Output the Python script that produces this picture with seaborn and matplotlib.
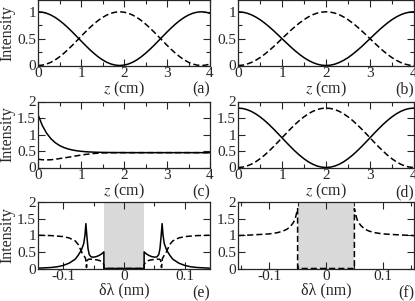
import numpy as np
import pandas as pd
import matplotlib
matplotlib.use("Agg")
import matplotlib.pyplot as plt
from matplotlib.ticker import MultipleLocator
import seaborn as sns

sns.set_style("ticks")
plt.rcParams['font.family'] = ['Liberation Serif', 'DejaVu Serif']
plt.rcParams['mathtext.fontset'] = 'stix'
plt.rcParams['font.size'] = 8

# ---- data ----
z = [round(0.1 * i, 1) for i in range(41)]

a_solid = [1.000, 0.993, 0.973, 0.940, 0.895, 0.839, 0.774, 0.701, 0.623, 0.541,
           0.459, 0.377, 0.299, 0.227, 0.161, 0.105, 0.060, 0.027, 0.007, 0.000,
           0.007, 0.027, 0.060, 0.105, 0.161, 0.227, 0.299, 0.377, 0.459, 0.541,
           0.623, 0.701, 0.774, 0.839, 0.895, 0.940, 0.973, 0.993, 1.000, 0.993, 0.973]
a_dash = [0.000, 0.007, 0.027, 0.060, 0.105, 0.161, 0.226, 0.299, 0.377, 0.459,
          0.541, 0.623, 0.701, 0.773, 0.839, 0.895, 0.940, 0.973, 0.993, 1.000,
          0.993, 0.973, 0.940, 0.895, 0.839, 0.773, 0.701, 0.623, 0.541, 0.459,
          0.377, 0.299, 0.226, 0.161, 0.105, 0.060, 0.027, 0.007, 0.000, 0.007, 0.027]

b_solid = [1.000, 0.994, 0.976, 0.946, 0.905, 0.854, 0.794, 0.727, 0.655, 0.578,
           0.500, 0.422, 0.345, 0.273, 0.206, 0.146, 0.096, 0.055, 0.025, 0.006,
           0.000, 0.006, 0.025, 0.055, 0.096, 0.146, 0.206, 0.273, 0.345, 0.422,
           0.500, 0.578, 0.655, 0.727, 0.794, 0.854, 0.905, 0.946, 0.976, 0.994, 1.000]
b_dash = [0.000, 0.006, 0.025, 0.055, 0.096, 0.146, 0.206, 0.273, 0.345, 0.422,
          0.500, 0.578, 0.655, 0.727, 0.794, 0.854, 0.905, 0.946, 0.976, 0.994,
          1.000, 0.994, 0.976, 0.946, 0.905, 0.854, 0.794, 0.727, 0.655, 0.578,
          0.500, 0.422, 0.345, 0.273, 0.206, 0.146, 0.096, 0.055, 0.025, 0.006, 0.000]

c_solid = [1.600, 1.274, 1.040, 0.873, 0.753, 0.667, 0.606, 0.562, 0.530, 0.507,
           0.491, 0.479, 0.471, 0.465, 0.461, 0.458, 0.456, 0.454, 0.453, 0.452,
           0.451, 0.450, 0.450, 0.450, 0.450, 0.450, 0.450, 0.450, 0.450, 0.450,
           0.450, 0.450, 0.450, 0.450, 0.450, 0.450, 0.450, 0.450, 0.450, 0.450, 0.450]
c_dash = [0.250, 0.235, 0.230, 0.235, 0.250, 0.270, 0.290, 0.310, 0.330, 0.355,
          0.375, 0.395, 0.410, 0.425, 0.435, 0.440, 0.445, 0.447, 0.448, 0.449,
          0.450, 0.450, 0.450, 0.450, 0.450, 0.450, 0.450, 0.450, 0.450, 0.450,
          0.450, 0.450, 0.450, 0.450, 0.450, 0.450, 0.450, 0.450, 0.450, 0.450, 0.450]

d_solid = [1.800, 1.789, 1.756, 1.702, 1.628, 1.536, 1.429, 1.309, 1.178, 1.041,
           0.900, 0.759, 0.622, 0.491, 0.371, 0.264, 0.172, 0.098, 0.044, 0.011,
           0.000, 0.011, 0.044, 0.098, 0.172, 0.264, 0.371, 0.491, 0.622, 0.759,
           0.900, 1.041, 1.178, 1.309, 1.429, 1.536, 1.628, 1.702, 1.756, 1.789, 1.800]
d_dash = [0.000, 0.011, 0.044, 0.098, 0.172, 0.264, 0.371, 0.491, 0.622, 0.759,
          0.900, 1.041, 1.178, 1.309, 1.429, 1.536, 1.628, 1.702, 1.756, 1.789,
          1.800, 1.789, 1.756, 1.702, 1.628, 1.536, 1.429, 1.309, 1.178, 1.041,
          0.900, 0.759, 0.622, 0.491, 0.371, 0.264, 0.172, 0.098, 0.044, 0.011, 0.000]

# panel (e): detuning (nm)
e_x_solid = [-0.140, -0.120, -0.110, -0.100, -0.090, -0.080, -0.075, -0.070, -0.066,
             -0.064, -0.0625, -0.061, -0.059, -0.057, -0.054, -0.050, -0.045, -0.040,
             -0.036, -0.033, -0.033, 0.033, 0.033, 0.036, 0.040, 0.045, 0.050, 0.054,
             0.057, 0.059, 0.061, 0.0625, 0.064, 0.066, 0.070, 0.075, 0.080, 0.090,
             0.100, 0.110, 0.120, 0.140]
e_solid = [0.01, 0.03, 0.05, 0.09, 0.16, 0.28, 0.40, 0.55, 0.75,
           1.00, 1.35, 1.00, 0.60, 0.42, 0.35, 0.34, 0.36, 0.40,
           0.45, 0.50, 0.00, 0.00, 0.50, 0.45, 0.40, 0.36, 0.34, 0.35,
           0.42, 0.60, 1.00, 1.35, 1.00, 0.75, 0.55, 0.40, 0.28, 0.16,
           0.09, 0.05, 0.03, 0.01]
e_x_dash = [-0.140, -0.120, -0.100, -0.090, -0.080, -0.075, -0.072, -0.069, -0.066,
            -0.063, -0.0615, -0.060, -0.058, -0.054, -0.050, -0.045, -0.040, -0.036,
            -0.033, -0.033, 0.033, 0.033, 0.036, 0.040, 0.045, 0.050, 0.054, 0.058,
            0.060, 0.0615, 0.063, 0.066, 0.069, 0.072, 0.075, 0.080, 0.090, 0.100,
            0.120, 0.140]
e_dash = [1.00, 0.99, 0.96, 0.92, 0.83, 0.72, 0.60, 0.48, 0.40,
          0.30, 0.03, 0.25, 0.28, 0.28, 0.27, 0.26, 0.24, 0.20,
          0.12, 0.00, 0.00, 0.12, 0.20, 0.24, 0.26, 0.27, 0.28, 0.28,
          0.25, 0.03, 0.30, 0.40, 0.48, 0.60, 0.72, 0.83, 0.92, 0.96,
          0.99, 1.00]

# panel (f)
f_x_dash = [-0.155, -0.130, -0.100, -0.085, -0.075, -0.068, -0.062, -0.058, -0.055,
            -0.053, -0.051, -0.050, -0.050, 0.050, 0.050, 0.051, 0.053, 0.055, 0.058,
            0.062, 0.068, 0.075, 0.085, 0.100, 0.130, 0.155]
f_dash = [0.99, 1.01, 1.04, 1.08, 1.13, 1.19, 1.28, 1.37, 1.46,
          1.58, 1.72, 1.80, 0.00, 0.00, 1.80, 1.72, 1.58, 1.46, 1.37,
          1.28, 1.19, 1.13, 1.08, 1.04, 1.01, 0.99]

gap_e = [-0.033, 0.033]
gap_f = [-0.050, 0.050]

tags = ['(a)', '(b)', '(c)', '(d)', '(e)', '(f)']

# ---- layout (pixels) ----
W, H = 415, 301
fig = plt.figure(figsize=(W / 100, H / 100), dpi=100)
cols = [(38, 210), (238, 414)]
rows = [(0, 65.5), (101.5, 167.5), (202, 268.5)]
TICK_FS = 11
LAB_FS = 11.5


def make_ax(r, c):
    x0, x1 = cols[c]
    y0, y1 = rows[r]
    return fig.add_axes([x0 / W, 1 - y1 / H, (x1 - x0) / W, (y1 - y0) / H])


def style(ax, xmaj, xmin, ymaj, ymin):
    ax.xaxis.set_major_locator(MultipleLocator(xmaj))
    ax.xaxis.set_minor_locator(MultipleLocator(xmin))
    ax.yaxis.set_major_locator(MultipleLocator(ymaj))
    if ymin:
        ax.yaxis.set_minor_locator(MultipleLocator(ymin))
    ax.tick_params(which='both', direction='in', top=True, right=True,
                   width=0.8, labelsize=TICK_FS)
    ax.tick_params(axis='x', pad=1)
    ax.tick_params(axis='y', pad=1.5)
    ax.tick_params(which='major', length=5)
    ax.tick_params(which='minor', length=3)
    for s in ax.spines.values():
        s.set_linewidth(0.9)
    ax.set_ylabel('')
    ax.set_xlabel('')


def draw(ax, x, y, dashed=False):
    df = pd.DataFrame({'x': x, 'y': y})
    if dashed:
        sns.lineplot(data=df, x='x', y='y', ax=ax, color='k', lw=1.1,
                     sort=False, estimator=None, ls=(0, (4, 2)))
    else:
        sns.lineplot(data=df, x='x', y='y', ax=ax, color='k', lw=1.1,
                     sort=False, estimator=None)


axes = []
panels = [(a_solid, a_dash, 1.22), (b_solid, b_dash, 1.22),
          (c_solid, c_dash, 2.0), (d_solid, d_dash, 2.0)]
for i, (s, d, top) in enumerate(panels):
    ax = make_ax(i // 2, i % 2)
    draw(ax, z, s)
    draw(ax, z, d, dashed=True)
    ax.set_xlim(0, 4)
    ax.set_ylim(0, top)
    if top < 1.5:
        style(ax, 1, 0.5, 0.5, 0.25)
        ax.set_yticks([0, 0.5, 1])
        ax.set_yticklabels(['0', '0.5', '1'])
    else:
        style(ax, 1, 0.5, 0.5, None)
        ax.set_yticks([0, 0.5, 1, 1.5, 2])
        ax.set_yticklabels(['0', '0.5', '1', '1.5', '2'])
    ax.set_xticks([0, 1, 2, 3, 4])
    ax.set_xticklabels(['0', '1', '2', '3', '4'])
    ax.set_xlabel('$z$ (cm)', fontsize=LAB_FS, labelpad=0)
    axes.append(ax)

ax = make_ax(2, 0)
ax.axvspan(gap_e[0], gap_e[1], color='#d9d9d9', lw=0, zorder=0)
draw(ax, e_x_solid, e_solid)
draw(ax, e_x_dash, e_dash, dashed=True)
ax.set_xlim(-0.141, 0.141)
ax.set_ylim(0, 2)
style(ax, 0.1, 0.05, 0.5, None)
ax.set_yticks([0, 0.5, 1, 1.5, 2])
ax.set_yticklabels(['0', '0.5', '1', '1.5', '2'])
ax.set_xticks([-0.1, 0, 0.1])
ax.set_xticklabels(['-0.1', '0', '0.1'])
ax.set_xlabel('δλ (nm)', fontsize=LAB_FS, labelpad=0)
axes.append(ax)

ax = make_ax(2, 1)
ax.axvspan(gap_f[0], gap_f[1], color='#d9d9d9', lw=0, zorder=0)
draw(ax, f_x_dash, f_dash, dashed=True)
ax.set_xlim(-0.155, 0.155)
ax.set_ylim(0, 2)
style(ax, 0.1, 0.05, 0.5, None)
ax.set_yticks([0, 0.5, 1, 1.5, 2])
ax.set_yticklabels(['0', '0.5', '1', '1.5', '2'])
ax.set_xticks([-0.1, 0, 0.1])
ax.set_xticklabels(['-0.1', '0', '0.1'])
ax.set_xlabel('δλ (nm)', fontsize=LAB_FS, labelpad=0)
axes.append(ax)

for i, ax in enumerate(axes):
    if i % 2 == 0:
        ax.set_ylabel('Intensity', fontsize=LAB_FS, labelpad=1)
    ax.text(1.0, -0.37, tags[i], transform=ax.transAxes, ha='right',
            va='center', fontsize=LAB_FS)

fig.savefig('out.png', dpi=100)
